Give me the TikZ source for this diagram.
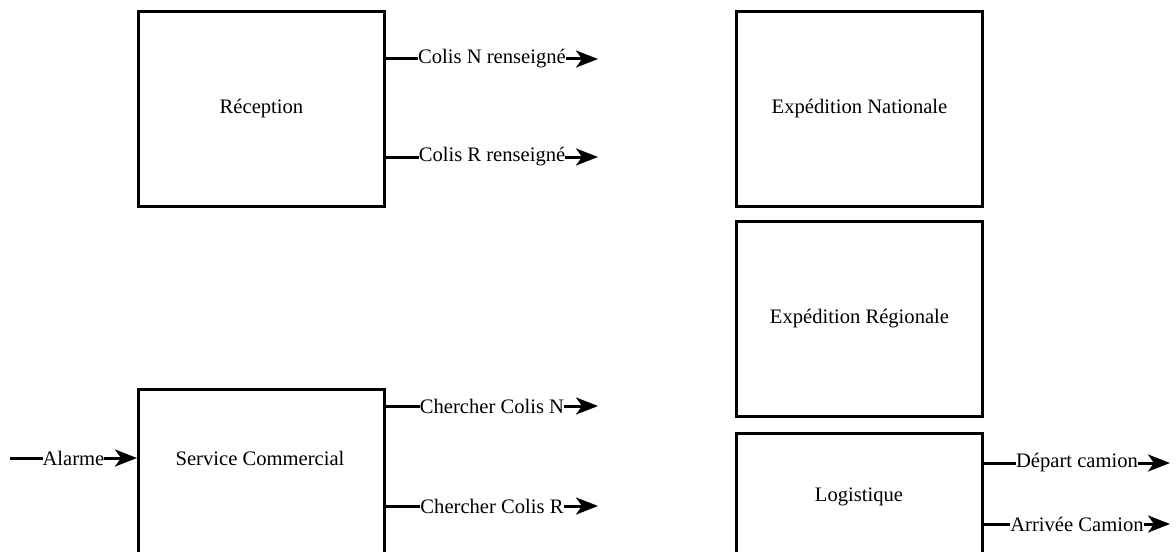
\documentclass[tikz,border=0pt]{standalone}
\usepackage{fontspec}
\setmainfont{Liberation Serif}
\usetikzlibrary{arrows.meta}
\begin{document}
\begin{tikzpicture}[
x=0.5pt, y=-0.5pt,
every node/.style={font=\fontsize{10.3pt}{12pt}\selectfont},
bloc/.style={
draw,
line width=1.5pt,
minimum width=123pt,
minimum height=97.5pt,
inner sep=0pt,
anchor=north west
},
flux/.style={line width=1.5pt, -{Stealth[length=11pt,width=8.5pt,inset=3pt]}},
lbl/.style={fill=white, inner sep=0pt}
]
\clip (0,0) rectangle (1176,551);

\node[bloc] (rec) at (137,10) {Réception};
\node[bloc] (expn) at (735,10) {Expédition Nationale};
\node[bloc] (expr) at (735,220) {Expédition Régionale};
\node[bloc] (sc) at (137,388) {};
\node[bloc] (log) at (735,432) {};
\node (sct) at (260,458) {Service Commercial};
\node (logt) at (859,497) {Logistique};

\coordinate (cn) at (598,59);
\coordinate (cr) at (598,157);
\coordinate (ccn) at (598,406);
\coordinate (ccr) at (598,506);
\coordinate (al) at (10,458);
\coordinate (dep) at (1170,463);
\coordinate (arr) at (1170,524);

\draw[flux] (rec.east |- cn) -- node[lbl] {Colis N renseigné} (cn);
\draw[flux] (rec.east |- cr) -- node[lbl] {Colis R renseigné} (cr);

\draw[flux] (al) -- node[lbl] {Alarme} (sc.west |- al);
\draw[flux] (sc.east |- ccn) -- node[lbl] {Chercher Colis N} (ccn);
\draw[flux] (sc.east |- ccr) -- node[lbl] {Chercher Colis R} (ccr);

\draw[flux] (log.east |- dep) -- node[lbl] {Départ camion} (dep);
\draw[flux] (log.east |- arr) -- node[lbl] {Arrivée Camion} (arr);

\end{tikzpicture}
\end{document}
